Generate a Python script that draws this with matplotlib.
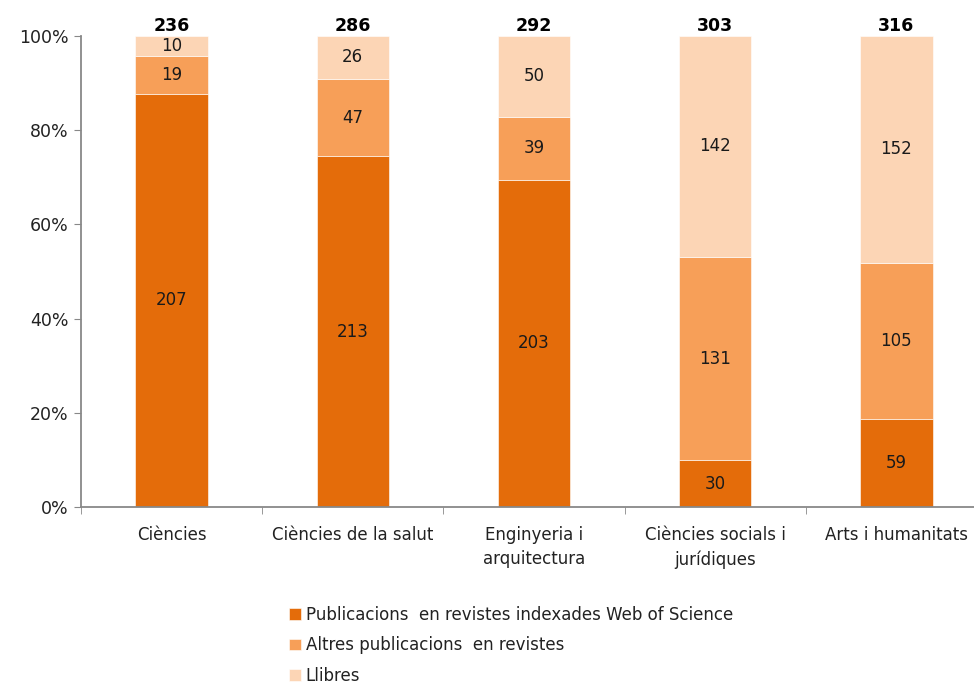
import matplotlib
matplotlib.use("Agg")
import matplotlib.pyplot as plt
import numpy as np

categories = ["Ciències", "Ciències de la salut", "Enginyeria i\narquitectura",
              "Ciències socials i\njurídiques", "Arts i humanitats"]
series_names = ["Publicacions  en revistes indexades Web of Science",
                "Altres publicacions  en revistes", "Llibres"]
wos = [207, 213, 203, 30, 59]
altres = [19, 47, 39, 131, 105]
llibres = [10, 26, 50, 142, 152]
colors = ["#E46C0A", "#F79F58", "#FCD5B5"]

plt.rcParams['font.family'] = ['DejaVu Sans']
fig = plt.figure(figsize=(9.74, 6.86), dpi=100)
ax = fig.add_axes([81/974, 1 - 507/686, 906/974, 471/686])

data = np.array([wos, altres, llibres], dtype=float)
totals = data.sum(axis=0)
pct = data / totals * 100
x = np.arange(len(categories))
bottom = np.zeros(len(categories))
handles = []
for i in range(3):
    b = ax.bar(x, pct[i], 0.40, bottom=bottom, color=colors[i], label=series_names[i],
               edgecolor='white', linewidth=0.4)
    handles.append(b)
    for j in range(len(categories)):
        ax.text(x[j], bottom[j] + pct[i][j] / 2, f"{int(data[i][j])}", ha='center', va='center',
                fontsize=12, color='#1a1a1a')
    bottom += pct[i]
for j in range(len(categories)):
    ax.text(x[j], 100.3, f"{int(totals[j])}", ha='center', va='bottom', fontsize=12.5,
            fontweight='bold', color='black')

ax.set_xlim(-0.5, len(categories) - 0.5)
ax.set_ylim(0, 100)
ax.set_yticks(np.arange(0, 101, 20))
ax.set_yticklabels([f"{v}%" for v in range(0, 101, 20)], fontsize=12.5, color='#222222')
ax.set_xticks(x)
ax.set_xticklabels(categories, fontsize=12, color='#222222', linespacing=1.4)
ax.tick_params(axis='x', which='major', length=0, pad=14)
ax.set_xticks(np.arange(-0.5, len(categories), 1), minor=True)
ax.tick_params(axis='x', which='minor', length=5, direction='out', color='#888888')
ax.tick_params(axis='y', length=5, direction='out', color='#888888', pad=4)
for s in ['top', 'right']:
    ax.spines[s].set_visible(False)
for s in ['left', 'bottom']:
    ax.spines[s].set_color('#888888')
    ax.spines[s].set_linewidth(1.3)

leg = fig.legend(handles=handles, labels=series_names, loc='upper left',
                 bbox_to_anchor=(284/974, 1 - 601/686), frameon=False, fontsize=12,
                 handlelength=0.7, handleheight=0.7, handletextpad=0.3, labelspacing=0.74,
                 borderaxespad=0, borderpad=0.3)
for t in leg.get_texts():
    t.set_color('#222222')

fig.savefig("out.png", dpi=100)
